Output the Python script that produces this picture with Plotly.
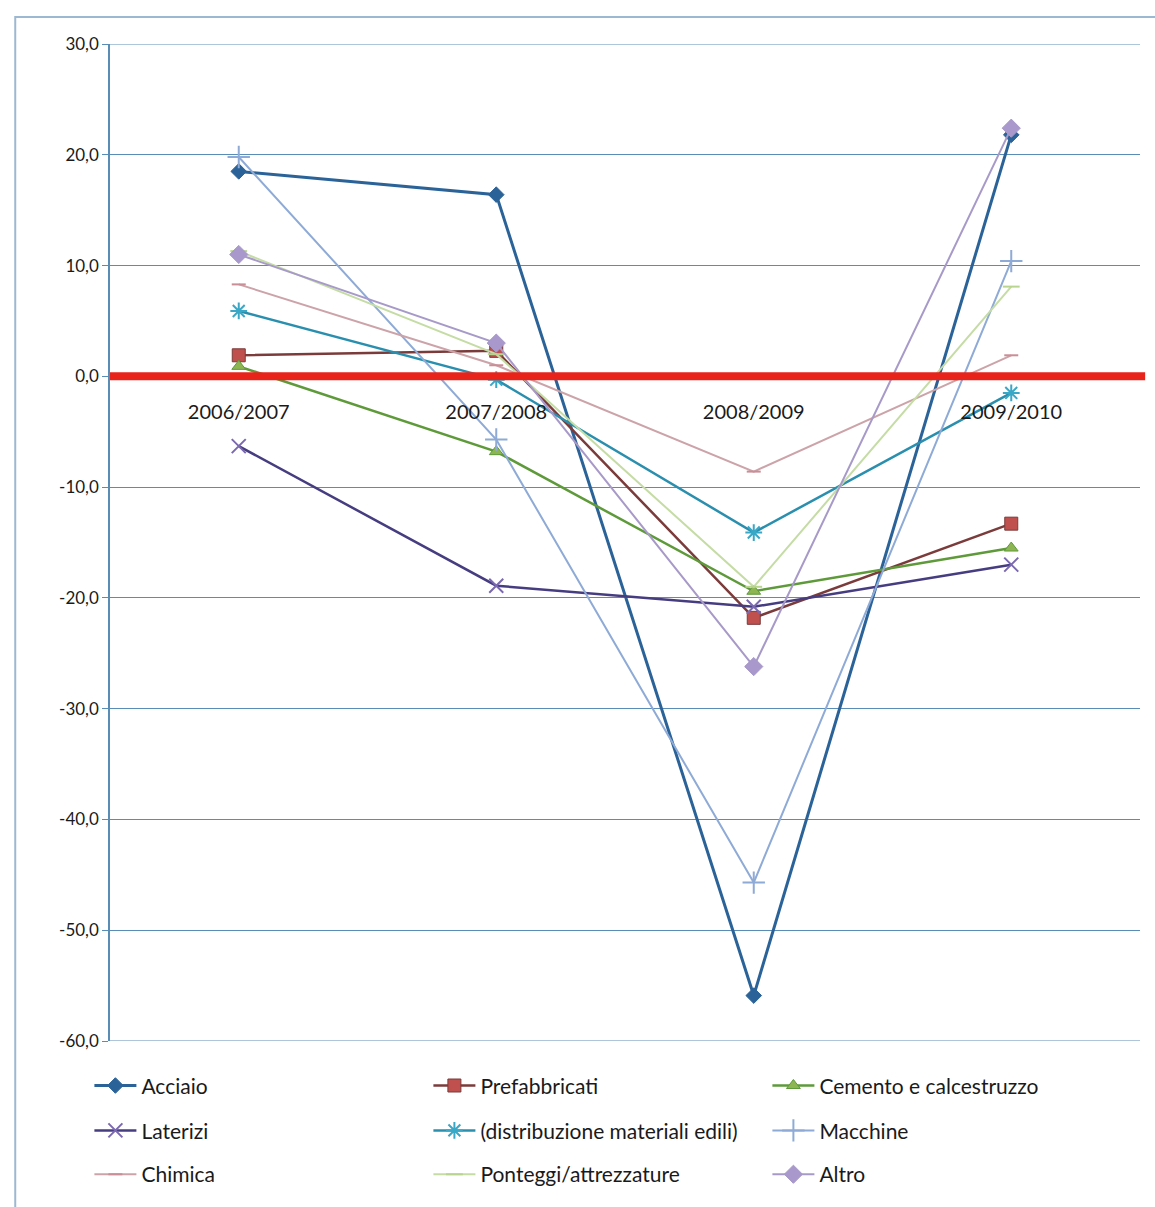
import plotly.graph_objects as go

# Annual change (%) by sector
periods = ["2006/2007", "2007/2008", "2008/2009", "2009/2010"]

acciaio = [18.5, 16.4, -55.9, 21.8]
prefabbricati = [1.9, 2.3, -21.8, -13.3]
cemento = [0.9, -6.8, -19.4, -15.5]
laterizi = [-6.3, -18.9, -20.8, -17.0]
distribuzione = [5.9, -0.3, -14.1, -1.5]
macchine = [19.8, -5.7, -45.7, 10.4]
chimica = [8.3, 1.0, -8.6, 1.9]
ponteggi = [11.3, 2.0, -19.0, 8.1]
altro = [11.0, 3.0, -26.2, 22.4]

baseline = 0.0
y_ticks = [30, 20, 10, 0, -10, -20, -30, -40, -50, -60]
y_tick_text = ["30,0", "20,0", "10,0", "0,0", "-10,0", "-20,0", "-30,0", "-40,0", "-50,0", "-60,0"]

FONT = "Lato"
TEXT = "#1a1a1a"
GRID = "#5A8DB5"

series = [
    # name, values, line colour, marker symbol, marker colour, marker size, line width, legend
    ("Acciaio", acciaio, "#2B6399", "diamond", "#2B6399", 12, 3, "legend"),
    ("Prefabbricati", prefabbricati, "#7A3B3A", "square", "#C0504D", 13, 2.5, "legend"),
    ("Cemento e calcestruzzo", cemento, "#5E9A3A", "triangle-up", "#8DB552", 12, 2.5, "legend"),
    ("Laterizi", laterizi, "#463C80", "x-thin-open", "#7A68B0", 14, 2.5, "legend2"),
    ("(distribuzione materiali edili)", distribuzione, "#2A8FAE", "asterisk-open", "#39A7C6", 14, 2.5, "legend2"),
    ("Macchine", macchine, "#8EAAD6", "cross-thin-open", "#8EAAD6", 16, 2, "legend2"),
    ("Chimica", chimica, "#CCA3A8", "line-ew-open", "#C98E96", 10, 2, "legend3"),
    ("Ponteggi/attrezzature", ponteggi, "#C5DCA5", "line-ew-open", "#B8D48E", 12, 2, "legend3"),
    ("Altro", altro, "#A79AC9", "diamond", "#A898CC", 14, 2, "legend3"),
]

fig = go.Figure()
for name, vals, lc, sym, mc, ms, lw, leg in series:
    open_sym = sym.endswith("-open")
    fig.add_trace(go.Scatter(
        x=periods, y=vals, name=name, mode="lines+markers",
        line=dict(color=lc, width=lw),
        marker=dict(symbol=sym, size=ms, color=mc,
                    line=dict(color=mc if open_sym else lc, width=2 if open_sym else 1)),
        legend=leg,
    ))

# horizontal rules at the top and bottom of the value range
for yv in (max(y_ticks), min(y_ticks)):
    fig.add_shape(type="line", xref="paper", x0=0, x1=1, yref="y", y0=yv, y1=yv,
                  line=dict(color=GRID, width=1), layer="below")

# thick red reference line at zero across the whole plot
fig.add_shape(type="line", xref="paper", x0=0, x1=1.005, yref="y", y0=baseline, y1=baseline,
              line=dict(color="#E8231A", width=8), layer="above")

# outer chart frame
fig.add_shape(type="rect", xref="paper", yref="paper",
              x0=-0.092, x1=1.05, y0=-0.2, y1=1.027,
              line=dict(color="#9DB9D2", width=2), layer="below")

legend_common = dict(orientation="h", xanchor="left", yanchor="middle",
                     entrywidth=282, entrywidthmode="pixels",
                     font=dict(family=FONT, size=21, color=TEXT),
                     bgcolor="rgba(0,0,0,0)", itemwidth=42)

fig.update_layout(
    width=1155, height=1207,
    margin=dict(l=110, r=15, t=44, b=161),
    paper_bgcolor="white", plot_bgcolor="white",
    font=dict(family=FONT, size=17, color=TEXT),
    showlegend=True,
    legend=dict(x=-0.02, y=-0.045, **legend_common),
    legend2=dict(x=-0.02, y=-0.090, **legend_common),
    legend3=dict(x=-0.02, y=-0.134, **legend_common),
    xaxis=dict(
        type="category", categoryorder="array", categoryarray=periods,
        range=[-0.5, 3.5], anchor="free", position=(0 - (-60)) / 90,
        showgrid=False, showline=False, zeroline=False, ticks="",
        ticklabelstandoff=22,
        tickfont=dict(family=FONT, size=20, color=TEXT),
    ),
    yaxis=dict(
        range=[-60, 30], tickvals=y_ticks, ticktext=y_tick_text,
        showgrid=True, gridcolor=GRID, gridwidth=1,
        showline=True, linecolor=GRID, linewidth=1.5,
        ticks="outside", ticklen=6, tickcolor=GRID,
        zeroline=False,
        tickfont=dict(family=FONT, size=17, color=TEXT),
    ),
)

fig.write_html("out.html")
